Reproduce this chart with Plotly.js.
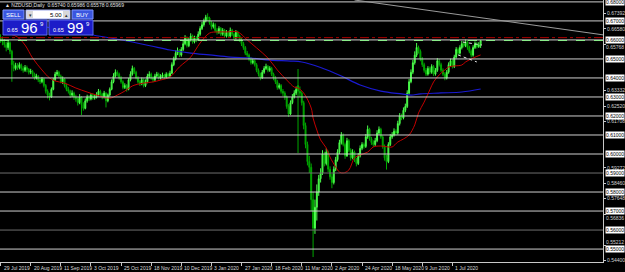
<!DOCTYPE html>
<html><head><meta charset="utf-8">
<script src="https://cdn.plot.ly/plotly-3.0.1.min.js"></script>
<style>html,body{margin:0;padding:0;background:#000;}#chart{width:625px;height:272px;}</style>
</head><body><div id="chart"></div>
<script>
// ---- DATA (NZDUSD Daily) ----
const startDate = '2019-07-29';
const skipDays = ['2019-12-25', '2020-01-01'];

const opens = [
0.6615,0.6600,0.6590,0.6575,0.6560,0.6585,0.6540,0.6470,0.6450,0.6465,
0.6455,0.6470,0.6450,0.6440,0.6455,0.6445,0.6430,0.6435,0.6420,0.6400,
0.6410,0.6390,0.6380,0.6395,0.6360,0.6330,0.6310,0.6300,0.6340,0.6390,
0.6420,0.6430,0.6410,0.6380,0.6395,0.6360,0.6340,0.6330,0.6310,0.6320,
0.6300,0.6290,0.6270,0.6300,0.6260,0.6240,0.6280,0.6300,0.6290,0.6310,
0.6295,0.6300,0.6310,0.6330,0.6315,0.6300,0.6320,0.6280,0.6310,0.6340,
0.6380,0.6410,0.6430,0.6420,0.6400,0.6380,0.6350,0.6360,0.6340,0.6390,
0.6420,0.6450,0.6430,0.6400,0.6380,0.6370,0.6390,0.6360,0.6380,0.6410,
0.6420,0.6400,0.6390,0.6410,0.6420,0.6400,0.6410,0.6415,0.6405,0.6420,
0.6410,0.6425,0.6470,0.6500,0.6530,0.6545,0.6520,0.6550,0.6580,0.6610,
0.6570,0.6600,0.6620,0.6590,0.6610,0.6600,0.6630,0.6660,0.6680,0.6700,
0.6720,0.6715,0.6690,0.6670,0.6680,0.6650,0.6640,0.6660,0.6630,0.6650,
0.6620,0.6640,0.6620,0.6650,0.6630,0.6610,0.6640,0.6620,0.6600,0.6580,
0.6560,0.6530,0.6520,0.6500,0.6480,0.6490,0.6470,0.6440,0.6420,0.6400,
0.6430,0.6450,0.6460,0.6440,0.6450,0.6420,0.6400,0.6380,0.6350,0.6360,
0.6330,0.6320,0.6300,0.6250,0.6210,0.6270,0.6300,0.6320,0.6360,0.6330,
0.6320,0.6270,0.6150,0.6050,0.5960,0.5930,0.5760,0.5610,0.5720,0.5800,
0.5870,0.5900,0.6000,0.5950,0.6010,0.5920,0.5880,0.5850,0.5920,0.5970,
0.6010,0.6060,0.6100,0.6050,0.5990,0.6070,0.6020,0.5980,0.6010,0.5970,
0.5950,0.5990,0.6030,0.6050,0.6040,0.6090,0.6130,0.6080,0.6060,0.6050,
0.6070,0.6110,0.6130,0.6090,0.6040,0.5980,0.5960,0.6050,0.6090,0.6100,
0.6120,0.6110,0.6160,0.6200,0.6190,0.6230,0.6250,0.6320,0.6380,0.6430,
0.6480,0.6520,0.6560,0.6540,0.6500,0.6470,0.6440,0.6420,0.6450,0.6430,
0.6460,0.6420,0.6440,0.6490,0.6470,0.6440,0.6420,0.6400,0.6430,0.6470,
0.6490,0.6460,0.6510,0.6550,0.6530,0.6560,0.6580,0.6570,0.6590,0.6560,
0.6540,0.6520,0.6560,0.6580,0.6565,0.6574];

const highs = [
0.6630,0.6618,0.6605,0.6590,0.6600,0.6592,0.6548,0.6490,0.6480,0.6478,
0.6482,0.6476,0.6462,0.6468,0.6465,0.6452,0.6448,0.6442,0.6428,0.6422,
0.6415,0.6400,0.6405,0.6400,0.6368,0.6340,0.6322,0.6350,0.6400,0.6432,
0.6442,0.6438,0.6418,0.6408,0.6400,0.6370,0.6352,0.6338,0.6335,0.6328,
0.6312,0.6298,0.6315,0.6305,0.6272,0.6292,0.6312,0.6310,0.6320,0.6318,
0.6312,0.6325,0.6342,0.6338,0.6322,0.6332,0.6325,0.6318,0.6350,0.6392,
0.6425,0.6445,0.6440,0.6428,0.6410,0.6388,0.6372,0.6368,0.6400,0.6435,
0.6465,0.6458,0.6438,0.6410,0.6390,0.6402,0.6398,0.6392,0.6422,0.6435,
0.6428,0.6410,0.6422,0.6432,0.6428,0.6420,0.6428,0.6422,0.6430,0.6428,
0.6438,0.6482,0.6512,0.6545,0.6560,0.6552,0.6562,0.6595,0.6625,0.6618,
0.6612,0.6635,0.6628,0.6622,0.6620,0.6645,0.6672,0.6695,0.6712,0.6732,
0.6740,0.6722,0.6700,0.6692,0.6688,0.6662,0.6672,0.6668,0.6662,0.6658,
0.6652,0.6648,0.6665,0.6658,0.6638,0.6652,0.6648,0.6628,0.6610,0.6590,
0.6568,0.6542,0.6528,0.6510,0.6502,0.6498,0.6478,0.6450,0.6428,0.6442,
0.6462,0.6475,0.6468,0.6462,0.6458,0.6428,0.6410,0.6390,0.6372,0.6368,
0.6342,0.6330,0.6308,0.6262,0.6282,0.6315,0.6335,0.6355,0.6447,0.6355,
0.6330,0.6280,0.6165,0.6065,0.5990,0.5950,0.5800,0.5760,0.5840,0.5890,
0.5925,0.6020,0.6012,0.6030,0.6018,0.5935,0.5895,0.5935,0.5985,0.6025,
0.6075,0.6115,0.6108,0.6060,0.6085,0.6078,0.6030,0.6025,0.6018,0.5980,
0.6005,0.6045,0.6062,0.6060,0.6105,0.6150,0.6138,0.6090,0.6072,0.6085,
0.6125,0.6145,0.6138,0.6098,0.6050,0.5995,0.6062,0.6105,0.6115,0.6135,
0.6130,0.6175,0.6215,0.6212,0.6245,0.6265,0.6335,0.6395,0.6445,0.6495,
0.6540,0.6584,0.6570,0.6550,0.6510,0.6480,0.6452,0.6462,0.6460,0.6472,
0.6468,0.6452,0.6505,0.6500,0.6480,0.6450,0.6430,0.6442,0.6482,0.6502,
0.6498,0.6522,0.6562,0.6560,0.6572,0.6595,0.6590,0.6602,0.6598,0.6570,
0.6550,0.6572,0.6592,0.6590,0.6588,0.6599];

const lows = [
0.6585,0.6572,0.6560,0.6540,0.6548,0.6525,0.6380,0.6435,0.6440,0.6442,
0.6445,0.6438,0.6428,0.6432,0.6430,0.6418,0.6420,0.6405,0.6390,0.6392,
0.6378,0.6368,0.6372,0.6350,0.6318,0.6292,0.6282,0.6295,0.6335,0.6385,
0.6410,0.6400,0.6372,0.6368,0.6350,0.6330,0.6318,0.6295,0.6300,0.6285,
0.6275,0.6255,0.6262,0.6205,0.6228,0.6235,0.6270,0.6278,0.6282,0.6285,
0.6286,0.6292,0.6302,0.6305,0.6288,0.6292,0.6245,0.6272,0.6302,0.6335,
0.6372,0.6402,0.6408,0.6390,0.6370,0.6340,0.6342,0.6328,0.6335,0.6382,
0.6412,0.6420,0.6392,0.6370,0.6358,0.6362,0.6350,0.6352,0.6372,0.6400,
0.6390,0.6378,0.6382,0.6402,0.6392,0.6392,0.6400,0.6395,0.6398,0.6400,
0.6404,0.6420,0.6462,0.6492,0.6520,0.6510,0.6512,0.6542,0.6572,0.6560,
0.6562,0.6592,0.6580,0.6582,0.6588,0.6595,0.6622,0.6652,0.6670,0.6692,
0.6700,0.6680,0.6655,0.6660,0.6640,0.6628,0.6632,0.6620,0.6622,0.6610,
0.6612,0.6610,0.6612,0.6620,0.6598,0.6602,0.6608,0.6590,0.6568,0.6548,
0.6520,0.6508,0.6488,0.6470,0.6472,0.6460,0.6430,0.6408,0.6388,0.6395,
0.6422,0.6442,0.6430,0.6432,0.6410,0.6388,0.6368,0.6338,0.6340,0.6318,
0.6305,0.6285,0.6238,0.6195,0.6205,0.6262,0.6292,0.6310,0.6005,0.6300,
0.6255,0.6130,0.6030,0.5940,0.5900,0.5700,0.5458,0.5580,0.5650,0.5780,
0.5850,0.5890,0.5935,0.5940,0.5905,0.5865,0.5820,0.5840,0.5910,0.5960,
0.6000,0.6050,0.6040,0.5975,0.5985,0.6010,0.5965,0.5972,0.5958,0.5935,
0.5942,0.5982,0.6020,0.6028,0.6032,0.6080,0.6070,0.6048,0.6038,0.6042,
0.6062,0.6100,0.6080,0.6028,0.5965,0.5918,0.5952,0.6042,0.6080,0.6092,
0.6098,0.6102,0.6150,0.6178,0.6182,0.6220,0.6242,0.6312,0.6372,0.6420,
0.6470,0.6510,0.6528,0.6488,0.6458,0.6428,0.6410,0.6412,0.6420,0.6422,
0.6410,0.6412,0.6432,0.6460,0.6430,0.6410,0.6388,0.6392,0.6422,0.6460,
0.6450,0.6452,0.6502,0.6520,0.6522,0.6550,0.6560,0.6562,0.6548,0.6530,
0.6508,0.6512,0.6552,0.6555,0.6558,0.6558];

const closes = [
0.6600,0.6590,0.6575,0.6560,0.6585,0.6540,0.6470,0.6450,0.6465,0.6455,
0.6470,0.6450,0.6440,0.6455,0.6445,0.6430,0.6435,0.6420,0.6400,0.6410,
0.6390,0.6380,0.6395,0.6360,0.6330,0.6310,0.6300,0.6340,0.6390,0.6420,
0.6430,0.6410,0.6380,0.6395,0.6360,0.6340,0.6330,0.6310,0.6320,0.6300,
0.6290,0.6270,0.6300,0.6260,0.6240,0.6280,0.6300,0.6290,0.6310,0.6295,
0.6300,0.6310,0.6330,0.6315,0.6300,0.6320,0.6280,0.6310,0.6340,0.6380,
0.6410,0.6430,0.6420,0.6400,0.6380,0.6350,0.6360,0.6340,0.6390,0.6420,
0.6450,0.6430,0.6400,0.6380,0.6370,0.6390,0.6360,0.6380,0.6410,0.6420,
0.6400,0.6390,0.6410,0.6420,0.6400,0.6410,0.6415,0.6405,0.6420,0.6410,
0.6425,0.6470,0.6500,0.6530,0.6545,0.6520,0.6550,0.6580,0.6610,0.6570,
0.6600,0.6620,0.6590,0.6610,0.6600,0.6630,0.6660,0.6680,0.6700,0.6720,
0.6715,0.6690,0.6670,0.6680,0.6650,0.6640,0.6660,0.6630,0.6650,0.6620,
0.6640,0.6620,0.6650,0.6630,0.6610,0.6640,0.6620,0.6600,0.6580,0.6560,
0.6530,0.6520,0.6500,0.6480,0.6490,0.6470,0.6440,0.6420,0.6400,0.6430,
0.6450,0.6460,0.6440,0.6450,0.6420,0.6400,0.6380,0.6350,0.6360,0.6330,
0.6320,0.6300,0.6250,0.6210,0.6270,0.6300,0.6320,0.6340,0.6330,0.6320,
0.6270,0.6150,0.6050,0.5960,0.5930,0.5760,0.5610,0.5720,0.5800,0.5870,
0.5900,0.6000,0.5950,0.6010,0.5920,0.5880,0.5850,0.5920,0.5970,0.6010,
0.6060,0.6100,0.6050,0.5990,0.6070,0.6020,0.5980,0.6010,0.5970,0.5950,
0.5990,0.6030,0.6050,0.6040,0.6090,0.6130,0.6080,0.6060,0.6050,0.6070,
0.6110,0.6130,0.6090,0.6040,0.5980,0.5960,0.6050,0.6090,0.6100,0.6120,
0.6110,0.6160,0.6200,0.6190,0.6230,0.6250,0.6320,0.6380,0.6430,0.6480,
0.6520,0.6560,0.6540,0.6500,0.6470,0.6440,0.6420,0.6450,0.6430,0.6460,
0.6420,0.6440,0.6490,0.6470,0.6440,0.6420,0.6400,0.6430,0.6470,0.6490,
0.6460,0.6510,0.6550,0.6530,0.6560,0.6580,0.6570,0.6590,0.6560,0.6540,
0.6520,0.6560,0.6580,0.6565,0.6574,0.6597];

// moving averages (bar index, value)
const redMaBars = [5,9,13,17,22,26,29,34,40,46,51,58,62,66,70,76,81,85,90,95,101,106,111,115,120,126,131,136,142,147,152,156,158,161,165,166,168,170,173,175,178,180,182,185,188,191,195,198,202,206,208,211,214,217,220,222,225,228,230,233,236,238,241,245,247,251,255];
const redMaVals = [0.6631,0.6615,0.6573,0.6505,0.6442,0.6400,0.6384,0.6373,0.6347,0.6326,0.6310,0.6294,0.6310,0.6331,0.6358,0.6373,0.6379,0.6389,0.6405,0.6458,0.6510,0.6584,0.6636,0.6642,0.6642,0.6642,0.6600,0.6558,0.6505,0.6442,0.6389,0.6352,0.6347,0.6321,0.6242,0.6189,0.6126,0.6074,0.6032,0.5984,0.5932,0.5905,0.5900,0.5916,0.5979,0.5995,0.6010,0.6037,0.6042,0.6037,0.6037,0.6063,0.6079,0.6100,0.6153,0.6216,0.6273,0.6337,0.6379,0.6416,0.6442,0.6458,0.6463,0.6468,0.6484,0.6505,0.6521];
const blueMaBars = [2,49,70,80,90,101,111,122,133,143,154,160,170,181,191,202,213,218,223,234,245,255];
const blueMaVals = [0.6705,0.6626,0.6589,0.6568,0.6547,0.6531,0.6521,0.6510,0.6505,0.6494,0.6489,0.6484,0.6455,0.6410,0.6363,0.6331,0.6316,0.6310,0.6316,0.6321,0.6326,0.6342];

// horizontal levels and other chart objects
const levels = [0.55,0.56,0.57,0.58,0.59,0.60,0.61,0.62,0.63,0.64,0.65,0.66,0.67,0.68];
const dimLevels = [0.56, 0.59];
const redDashLevel = 0.6612;
const bidLevel = 0.65969;
const trendBars = [188, 320.5], trendPrices = [0.6810, 0.6626];
const channelUpBars = [245.6, 255.7], channelUpPrices = [0.6589, 0.6573];
const channelLoBars = [243, 253], channelLoPrices = [0.6521, 0.6484];

// axis labels (price-scale labels that sit under a level box are not shown)
const tickDates = ['2019-07-29','2019-08-20','2019-09-11','2019-10-03','2019-10-25','2019-11-18','2019-12-10','2020-01-03','2020-01-27','2020-02-18','2020-03-11','2020-04-02','2020-04-24','2020-05-18','2020-06-09','2020-07-01'];
const tickText = ['29 Jul 2019','20 Aug 2019','11 Sep 2019','3 Oct 2019','25 Oct 2019','18 Nov 2019','10 Dec 2019','3 Jan 2020','27 Jan 2020','18 Feb 2020','11 Mar 2020','2 Apr 2020','24 Apr 2020','18 May 2020','9 Jun 2020','1 Jul 2020'];
const yTickVals = [0.54400,0.55212,0.56836,0.57648,0.58460,0.59272,0.61708,0.62520,0.63332,0.65768,0.66580,0.67392];
const yTickText = ['0.54400','0.55212','0.56836','0.57648','0.58460','0.59272','0.61708','0.62520','0.63332','0.65768','0.66580','0.67392'];
// labels right next to a level box are nudged a few pixels clear of it
const nudgedTicks = [0.55212, 0.56836, 0.65768];
const nudgePx = [2.8, -3.8, -2.6];
const headerText = '\u25B2 NZDUSD,Daily  0.65740 0.65986 0.65578 0.65969';

// ---- trading-day calendar ----
const dates = [];
{
  let d = new Date(startDate + 'T00:00:00Z');
  while (dates.length < closes.length) {
    const s = d.toISOString().slice(0, 10), wd = d.getUTCDay();
    if (wd !== 0 && wd !== 6 && !skipDays.includes(s)) dates.push(s);
    d.setUTCDate(d.getUTCDate() + 1);
  }
}

// ---- layout helpers (pixel -> paper within plot area) ----
const PW = 603, PH = 262;
const X = px => px / PW, Y = py => 1 - py / PH;
const FONT = 'Liberation Sans, Arial, sans-serif';

const traces = [
  {type:'candlestick', x: dates, open: opens, high: highs, low: lows, close: closes,
   increasing:{line:{color:'#4cff4c', width:1}, fillcolor:'#22d022'},
   decreasing:{line:{color:'#00a800', width:1}, fillcolor:'#009a00'},
   whiskerwidth:0, hoverinfo:'skip'},
  {type:'scatter', mode:'lines', x: blueMaBars.map(i => dates[i]), y: blueMaVals,
   line:{color:'#1a1ad2', width:1.2, shape:'spline'}, hoverinfo:'skip'},
  {type:'scatter', mode:'lines', x: redMaBars.map(i => dates[i]), y: redMaVals,
   line:{color:'#c40000', width:1, shape:'spline'}, hoverinfo:'skip'}
];

const shapes = [];
levels.forEach(l => shapes.push({type:'line', xref:'paper', x0:0, x1:1, yref:'y', y0:l, y1:l,
  line:{color: dimLevels.includes(l) ? '#6e6e6e' : '#cfcfcf', width:1}, layer:'above'}));
shapes.push({type:'line', xref:'paper', x0:0, x1:1, yref:'y', y0:redDashLevel, y1:redDashLevel,
  line:{color:'#b00000', width:1, dash:'dashdot'}, layer:'above'});
shapes.push({type:'line', xref:'paper', x0:0, x1:1, yref:'y', y0:bidLevel, y1:bidLevel,
  line:{color:'#8cf08c', width:1, dash:'dash'}, layer:'above'});
shapes.push({type:'line', xref:'x', x0:trendBars[0], x1:trendBars[1], yref:'y', y0:trendPrices[0], y1:trendPrices[1],
  line:{color:'#9a9a9a', width:1}, layer:'above'});
shapes.push({type:'line', xref:'x', x0:channelUpBars[0], x1:channelUpBars[1], yref:'y', y0:channelUpPrices[0], y1:channelUpPrices[1],
  line:{color:'#e0e0e0', width:1, dash:'dot'}, layer:'above'});
shapes.push({type:'line', xref:'x', x0:channelLoBars[0], x1:channelLoBars[1], yref:'y', y0:channelLoPrices[0], y1:channelLoPrices[1],
  line:{color:'#e0e0e0', width:1, dash:'dot'}, layer:'above'});

// one-click trading panel
function rect(x0,y0,x1,y1,fill,lc){ shapes.push({type:'rect', xref:'paper', yref:'paper', x0:X(x0), x1:X(x1), y0:Y(y1), y1:Y(y0), fillcolor:fill, line:{color:lc||fill, width:lc?1:0}, layer:'above'}); }
rect(3,10,24,19,'#3a56e0','#7f95ff');
rect(26,10,70,19,'#ffffff','#9aa6e8');
rect(27,11,33,18,'#d8d8d8');
rect(63,11,69,18,'#d8d8d8');
rect(72,10,93,19,'#3a56e0','#7f95ff');
rect(3,20,47,35,'#1c1cc8','#5a6af0');
rect(49,20,93,35,'#1c1cc8','#5a6af0');

const annotations = [];
function txt(px,py,text,size,color,anchor,extra){ annotations.push(Object.assign({xref:'paper', yref:'paper', x:X(px), y:Y(py), text, showarrow:false,
  xanchor:anchor||'center', yanchor:'middle', font:{family:FONT, size, color}}, extra||{})); }
txt(3, 5, headerText, 5, '#e0e0e0', 'left');
txt(13.5, 14.7, 'SELL', 6, '#ffffff');
txt(82.5, 14.7, 'BUY', 6, '#ffffff');
txt(56, 14.7, '5.00', 6, '#000000');
txt(30, 14.7, '\u25BE', 5, '#333333');
txt(66, 14.7, '\u25B4', 5, '#333333');
txt(12, 30.5, '0.65', 5.5, '#ffffff');
txt(29.5, 28, '96', 15, '#ffffff');
txt(41.5, 24, '9', 6, '#ffffff');
txt(58, 30.5, '0.65', 5.5, '#ffffff');
txt(75.5, 28, '99', 15, '#ffffff');
txt(87.5, 24, '9', 6, '#ffffff');

tickDates.forEach((d, k) => annotations.push({xref:'x', x: dates.indexOf(d), yref:'paper', y:0, yanchor:'top', xanchor:'left',
  xshift:1, yshift:-1, text: tickText[k], showarrow:false, font:{family:FONT, size:5, color:'#d8d8d8'}}));
levels.forEach(l => annotations.push({xref:'paper', x:1, xanchor:'left', xshift:2, yref:'y', y:l, yanchor:'middle',
  text: l.toFixed(5), showarrow:false, bgcolor:'#ffffff', borderpad:0, font:{family:FONT, size:5, color:'#000000'}}));
nudgedTicks.forEach((v, k) => annotations.push({xref:'paper', x:1, xanchor:'left', xshift:2, yref:'y', y:v, yanchor:'middle',
  yshift: nudgePx[k], borderpad:0, text: yTickText[yTickVals.indexOf(v)], showarrow:false, font:{family:FONT, size:5, color:'#d0d0d0'}}));
const shownTickText = yTickVals.map((v, k) => nudgedTicks.includes(v) ? '' : yTickText[k]);

const layout = {
  width:625, height:272, margin:{l:0, r:22, t:0, b:10, pad:0},
  paper_bgcolor:'#000000', plot_bgcolor:'#000000', showlegend:false,
  xaxis:{type:'category', range:[-0.3, 320], rangeslider:{visible:false}, showgrid:false, zeroline:false,
    showline:true, mirror:true, linecolor:'#c8c8c8', linewidth:1, ticks:'outside', ticklen:3, tickcolor:'#c8c8c8',
    tickvals: tickDates, showticklabels:false, fixedrange:true, automargin:false},
  yaxis:{side:'right', range:[0.5432, 0.6810], showgrid:false, zeroline:false, showline:true, mirror:true,
    linecolor:'#c8c8c8', linewidth:1, ticks:'outside', ticklen:2, tickcolor:'#c8c8c8',
    tickvals: yTickVals, ticktext: shownTickText, tickfont:{family:FONT, size:5, color:'#d0d0d0'}, automargin:false, fixedrange:true},
  shapes, annotations
};
Plotly.newPlot('chart', traces, layout, {displayModeBar:false, staticPlot:true});
</script></body></html>
